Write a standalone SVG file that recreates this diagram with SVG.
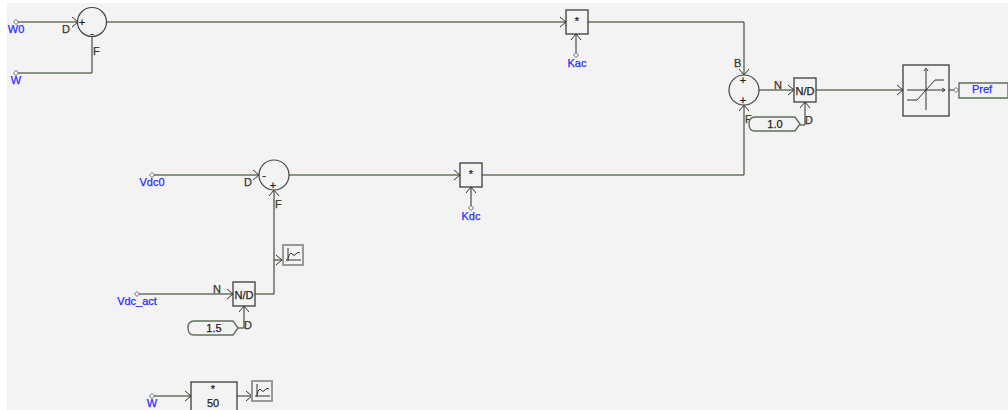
<svg xmlns="http://www.w3.org/2000/svg" width="1008" height="410" viewBox="0 0 1008 410">
<style>
text{font-family:"Liberation Sans",Arial,sans-serif;font-size:11px;stroke-width:.25}
.b{fill:#2a2aff;stroke:#2a2aff}.l{fill:#3a3320;stroke:#3a3320}.m{fill:#222;stroke:#222;text-anchor:middle}.c{text-anchor:middle}
.w{fill:none;stroke:#1f3319;stroke-width:1}
.g{fill:none;stroke:#333;stroke-width:1}
.box{fill:#f3f3f3;stroke:#3c3c3c;stroke-width:1.3}
.sum{fill:#f3f3f3;stroke:#444;stroke-width:1.2}
.pill{fill:#f3f3f3;stroke:#5f6f5a;stroke-width:1.4}
.pb{fill:#f3f3f3;stroke:#999;stroke-width:2}
.d{fill:#fff;stroke:#444;stroke-width:.8}
</style>
<defs>
<path id="dia" class="d" d="M0-2.5 2.5 0 0 2.5-2.5 0Z"/>
<g id="probe">
<rect class="pb" x="0" y="0" width="20" height="20"/>
<path class="g" d="M5 3V16M3 15H18M5 14Q7 6 9 9T13 9T17 8"/>
</g>
</defs>
<rect width="1008" height="410" fill="#ffffff"/>
<rect x="7" y="3" width="1001" height="407" fill="#f3f3f3"/>
<g id="connectors">
<path class="w" d="M16 22H78M16 73H92V37M107 22H566M588 22H744V75M759 90H794M816 90H903M949 90H954M744 105V175H482M289 175H460M152 175H259M274 190V294H255M137 294H233M274 260H282M238 328H244V306M800 125H805V102M152 396H191M237 396H252M576 34V53M471 187V206"/>
<path class="g" d="M72 17 78 22 72 27M87 31 92 37 97 31M739 69 744 75 749 69M739 111 744 105 749 111M788 85 794 90 788 95M800 108 805 102 810 108M897 85 903 90 897 95M560 17 566 22 560 27M571 40 576 34 581 40M454 170 460 175 454 180M466 193 471 187 476 193M253 170 259 175 253 180M269 196 274 190 279 196M227 289 233 294 227 299M239 312 244 306 249 312M276 255 282 260 276 265M185 391 191 396 185 401M246 391 252 396 246 401"/>
</g>
<g id="w0"><use href="#dia" x="16" y="22"/><text class="b c" x="16" y="33">W0</text></g>
<g id="w1"><use href="#dia" x="16" y="73"/><text class="b c" x="16" y="84">W</text></g>
<g id="sum1"><circle class="sum" cx="92" cy="22" r="14.5"/><text class="m" x="82" y="26">+</text><text class="m" x="92" y="37" font-size="9">-</text><text class="l" x="62" y="33">D</text><text class="l" x="93" y="55">F</text></g>
<g id="mulKac"><rect class="box" x="566" y="10" width="22" height="24"/><text class="m" x="577" y="25">*</text></g>
<g id="kac"><use href="#dia" x="576" y="55"/><text class="b c" x="577" y="67">Kac</text></g>
<g id="sum2"><circle class="sum" cx="744" cy="90" r="15"/><text class="m" x="743" y="84">+</text><text class="m" x="743" y="104">+</text><text class="l" x="734" y="67">B</text><text class="l" x="745" y="123">F</text><text class="l" x="774" y="89">N</text></g>
<g id="nd1"><rect class="box" x="794" y="78" width="22" height="24"/><text class="m" x="805" y="95" textLength="19" lengthAdjust="spacingAndGlyphs">N/D</text><text class="l" x="805" y="124">D</text></g>
<g id="k1"><path class="pill" d="M755 117H795L800 124 795 131H755Q749 131 749 124T755 117Z"/><text class="m" x="775" y="128">1.0</text></g>
<g id="limiter"><rect class="box" x="903" y="65" width="46" height="51"/><path class="g" d="M907 90H945M926 70V110M907 100H917L935 80H944M942 88 945 90 942 92M924 71 926 68 928 71"/></g>
<g id="pref"><path class="pill" d="M959 83H1008V98H959Z"/><use href="#dia" x="956" y="90"/><text class="b" x="972" y="93">Pref</text></g>
<g id="vdc0"><use href="#dia" x="152" y="175"/><text class="b c" x="152" y="186">Vdc0</text></g>
<g id="sum3"><circle class="sum" cx="274" cy="175" r="15"/><text class="m" x="264" y="179" font-size="9">-</text><text class="m" x="273" y="189">+</text><text class="l" x="244" y="186">D</text><text class="l" x="275" y="208">F</text></g>
<g id="mulKdc"><rect class="box" x="460" y="163" width="22" height="24"/><text class="m" x="471" y="178">*</text></g>
<g id="kdc"><use href="#dia" x="471" y="208"/><text class="b c" x="471" y="220">Kdc</text></g>
<g id="probe1"><use href="#probe" x="283" y="245"/></g>
<g id="vdcact"><use href="#dia" x="137" y="294"/><text class="b c" x="137" y="305">Vdc_act</text></g>
<g id="nd2"><rect class="box" x="233" y="282" width="22" height="24"/><text class="m" x="244" y="299" textLength="19" lengthAdjust="spacingAndGlyphs">N/D</text><text class="l" x="213" y="293">N</text><text class="l" x="244" y="329">D</text></g>
<g id="k2"><path class="pill" d="M194 321H233L238 328 233 335H194Q188 335 188 328T194 321Z"/><text class="m" x="214" y="332">1.5</text></g>
<g id="w2"><use href="#dia" x="152" y="396"/><text class="b c" x="152" y="407">W</text></g>
<g id="gain"><rect class="box" x="191" y="382" width="46" height="30"/><text class="m" x="213" y="393">*</text><text class="m" x="213" y="407">50</text></g>
<g id="probe2"><use href="#probe" x="252" y="381"/></g>
</svg>
